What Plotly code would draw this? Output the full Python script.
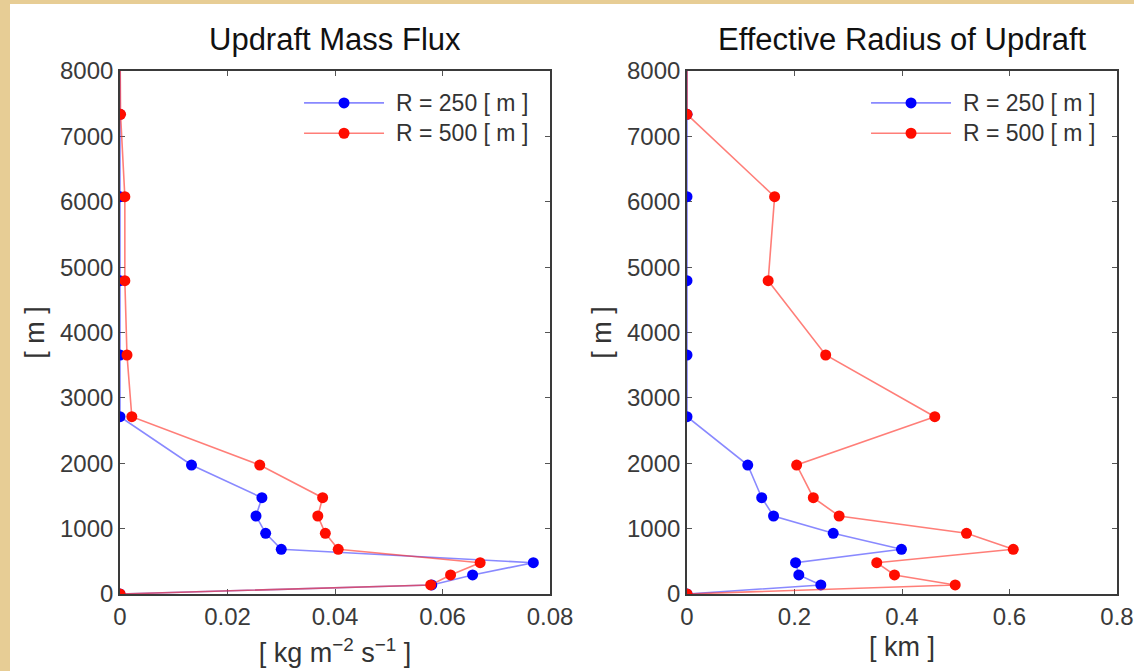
import plotly.graph_objects as go

# Model levels [m]
height = [0, 138, 291, 479, 684, 928, 1193, 1473, 1973, 2712, 3656, 4792, 6077, 7337, 8600]

# Updraft mass flux [kg m-2 s-1]
flux_r250 = [0, 0.058, 0.0656, 0.0769, 0.0300, 0.0271, 0.0253, 0.0264, 0.0133, 0, 0, 0, 0, 0, 0]
flux_r500 = [0, 0.0578, 0.0615, 0.0670, 0.0406, 0.0382, 0.0368, 0.0377, 0.0260, 0.0022, 0.0013, 0.0009, 0.0009, 0.0001, 0]

# Effective radius of updraft [km]
rad_r250 = [0, 0.249, 0.208, 0.202, 0.399, 0.272, 0.161, 0.139, 0.113, 0, 0, 0, 0, 0, 0]
rad_r500 = [0, 0.499, 0.386, 0.353, 0.607, 0.520, 0.283, 0.235, 0.204, 0.461, 0.258, 0.151, 0.163, 0, 0]

series_names = ["R = 250 [ m ]", "R = 500 [ m ]"]
subplot_titles = ["Updraft Mass Flux", "Effective Radius of Updraft"]
flux_ticks = [0, 0.02, 0.04, 0.06, 0.08]
rad_ticks = [0, 0.2, 0.4, 0.6, 0.8]
height_ticks = [0, 1000, 2000, 3000, 4000, 5000, 6000, 7000, 8000]

W, H = 1134, 671
FONT = "Liberation Sans, Arial, Helvetica, sans-serif"
BLUE, RED = "#0000ff", "#ff0d00"
LINE_BLUE, LINE_RED = "rgba(40,40,255,0.55)", "rgba(255,40,30,0.6)"

# plot-area pixel boxes: (left, right) and (top, bottom)
left_px = [(120, 550), (687, 1117)]
top_px, bottom_px = 71, 594

fig = go.Figure()

panels = [
    ("x", "y", flux_r250, flux_r500),
    ("x2", "y2", rad_r250, rad_r500),
]
for xa, ya, s250, s500 in panels:
    for vals, mcol, lcol, name in [(s250, BLUE, LINE_BLUE, series_names[0]),
                                   (s500, RED, LINE_RED, series_names[1])]:
        fig.add_trace(go.Scatter(
            x=vals, y=height, xaxis=xa, yaxis=ya, mode="lines+markers", name=name,
            line=dict(color=lcol, width=1.6),
            marker=dict(color=mcol, size=11, line=dict(width=0)),
            showlegend=False,
        ))

axis_common = dict(
    showline=True, mirror="ticks", linecolor="#3a3a3a", linewidth=1.6,
    ticks="inside", ticklen=5, tickwidth=1, tickcolor="#555",
    showgrid=False, zeroline=False, layer="below traces", automargin=False,
    tickfont=dict(family=FONT, size=24, color="#3a3a3a"),
)
label_font = dict(family=FONT, size=27, color="#333")

ydom = [1 - bottom_px / H, 1 - top_px / H]
xdoms = [[l / W, r / W] for l, r in left_px]

fig.update_layout(
    autosize=True,
    margin=dict(l=0, r=0, t=0, b=0, pad=0),
    paper_bgcolor="white", plot_bgcolor="white",
    font=dict(family=FONT, color="#222"),
    xaxis=dict(domain=xdoms[0], range=[0, 0.08], tickvals=flux_ticks,
               ticktext=["0", "0.02", "0.04", "0.06", "0.08"], anchor="y",
               title=dict(text="[ kg m<sup>−2</sup> s<sup>−1</sup> ]", font=label_font, standoff=15),
               **axis_common),
    yaxis=dict(domain=ydom, range=[0, 8000], tickvals=height_ticks, anchor="x",
               title=dict(text="[ m ]", font=label_font, standoff=8),
               **axis_common),
    xaxis2=dict(domain=xdoms[1], range=[0, 0.8], tickvals=rad_ticks,
                ticktext=["0", "0.2", "0.4", "0.6", "0.8"], anchor="y2",
                title=dict(text="[ km ]", font=label_font, standoff=9),
                **axis_common),
    yaxis2=dict(domain=ydom, range=[0, 8000], tickvals=height_ticks, anchor="x2",
                title=dict(text="[ m ]", font=label_font, standoff=8),
                **axis_common),
)

# parchment edge on the left and top
PARCH = "#e7cd95"
fig.add_shape(type="rect", xref="paper", yref="paper", x0=0, x1=10 / W, y0=0, y1=1,
              fillcolor=PARCH, line=dict(width=0), layer="below")
fig.add_shape(type="rect", xref="paper", yref="paper", x0=0, x1=1, y0=1 - 4 / H, y1=1,
              fillcolor=PARCH, line=dict(width=0), layer="below")

# subplot titles
for (l, r), title in zip(left_px, subplot_titles):
    fig.add_annotation(text=title, xref="paper", yref="paper", x=(l + r) / 2 / W,
                       y=1 - 40 / H, xanchor="center", yanchor="middle", showarrow=False,
                       font=dict(family=FONT, size=31, color="#111"))

# legends drawn inside each panel
for xa, ya in [("x", "y"), ("x2", "y2")]:
    xr, yr = f"{xa} domain", f"{ya} domain"
    for i, (mcol, lcol, name) in enumerate([(BLUE, LINE_BLUE, series_names[0]),
                                            (RED, LINE_RED, series_names[1])]):
        yy = 0.939 - i * 0.058
        fig.add_shape(type="line", xref=xr, yref=yr, x0=0.428, x1=0.614, y0=yy, y1=yy,
                      line=dict(color=lcol, width=1.6))
        fig.add_shape(type="circle", xref=xr, yref=yr, xsizemode="pixel", ysizemode="pixel",
                      xanchor=0.521, yanchor=yy, x0=-5.5, x1=5.5, y0=-5.5, y1=5.5,
                      fillcolor=mcol, line=dict(width=0))
        fig.add_annotation(text=name, xref=xr, yref=yr, x=0.638, y=yy, xanchor="left",
                           yanchor="middle", showarrow=False,
                           font=dict(family=FONT, size=23, color="#333"))

fig.write_html("out.html")
